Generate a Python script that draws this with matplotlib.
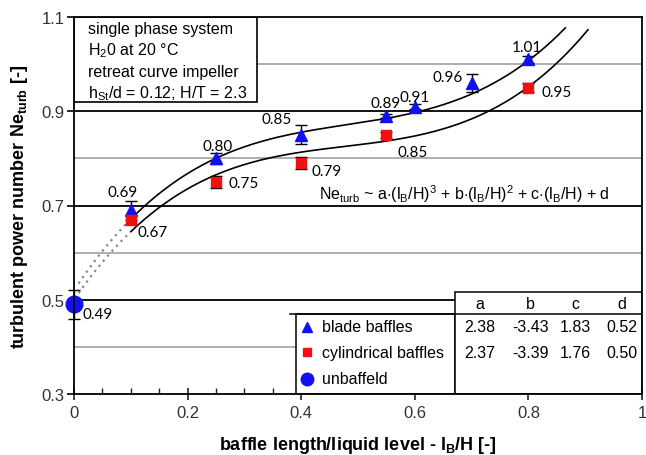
import numpy as np
import matplotlib
matplotlib.use("Agg")
import matplotlib.pyplot as plt
import matplotlib.patches as patches

plt.rcParams["font.family"] = ["Liberation Sans", "DejaVu Sans"]
plt.rcParams["mathtext.fontset"] = "custom"
plt.rcParams["mathtext.rm"] = "Liberation Sans"
plt.rcParams["mathtext.it"] = "Liberation Sans"
plt.rcParams["mathtext.bf"] = "Liberation Sans:bold"

# measured power numbers
blade_x = [0.1, 0.25, 0.4, 0.55, 0.6, 0.7, 0.8]
blade_ne = [0.69, 0.80, 0.85, 0.89, 0.91, 0.96, 1.01]
blade_err = [0.02, 0.012, 0.02, 0.005, 0.005, 0.02, 0.008]

cyl_x = [0.1, 0.25, 0.4, 0.55, 0.8]
cyl_ne = [0.67, 0.75, 0.79, 0.85, 0.95]
cyl_err = [0.01, 0.012, 0.012, 0.006, 0.01]

unb_x = [0.0]
unb_ne = [0.49]
unb_err = [0.03]

# cubic fit coefficients a, b, c, d
blade_coef = [2.38, -3.43, 1.83, 0.52]
cyl_coef = [2.37, -3.39, 1.76, 0.50]
coef_cols = ["a", "b", "c", "d"]

W, H = 646, 456
fig = plt.figure(figsize=(W / 100, H / 100), dpi=100)
ax = fig.add_axes([74 / W, 1 - 395 / H, 568 / W, 377 / H])

ax.set_xlim(0, 1)
ax.set_ylim(0.3, 1.1)

# horizontal grid
for y in [0.5, 0.7, 0.9]:
    ax.axhline(y, color="black", lw=1.3, zorder=1)
ax.axhline(0.4, xmax=0.39, color="#999999", lw=1.1, zorder=1)
for y in [0.6, 0.8, 1.0]:
    ax.axhline(y, color="#999999", lw=1.1, zorder=1)

# fitted curves and extrapolation to zero
poly_b = np.poly1d(blade_coef)
poly_c = np.poly1d(cyl_coef)
xb = np.linspace(0.1, 0.865, 200)
xc = np.linspace(0.1, 0.905, 200)
ax.plot(xb, poly_b(xb), color="black", lw=1.2, zorder=3)
ax.plot(xc, poly_c(xc), color="black", lw=1.2, zorder=3)
xe = np.linspace(0.008, 0.095, 50)
ax.plot(xe, poly_b(xe), color="#888888", lw=1.6, ls=(0, (1, 2)), zorder=3)
ax.plot(xe, poly_c(xe), color="#888888", lw=1.6, ls=(0, (1, 2)), zorder=3)

# error bars and markers
ax.errorbar(blade_x, blade_ne, yerr=blade_err, fmt="none", ecolor="black",
            elinewidth=1, capsize=4, capthick=1, zorder=4)
ax.errorbar(cyl_x, cyl_ne, yerr=cyl_err, fmt="none", ecolor="black",
            elinewidth=1, capsize=4, capthick=1, zorder=4)
ax.errorbar(unb_x, unb_ne, yerr=unb_err, fmt="none", ecolor="black",
            elinewidth=1, capsize=4, capthick=1, zorder=4, clip_on=False)
ax.plot(blade_x, blade_ne, "^", color="#1010F0", ms=9, zorder=5)
ax.plot(cyl_x, cyl_ne, "s", color="#F01010", ms=6.5, zorder=5)
ax.plot(unb_x, unb_ne, "o", color="#1010F0", ms=12, zorder=6, clip_on=False)

# value labels
lab_font = dict(family=["Lato", "DejaVu Sans"], fontsize=11, ha="center", va="center", zorder=7)
blade_lab_pos = [(0.086, 0.729), (0.252, 0.826), (0.357, 0.884), (0.548, 0.918),
                 (0.600, 0.931), (0.658, 0.973), (0.797, 1.036)]
cyl_lab_pos = [(0.139, 0.644), (0.298, 0.748), (0.445, 0.773), (0.597, 0.813), (0.850, 0.941)]
for v, (lx, ly) in zip(blade_ne, blade_lab_pos):
    ax.text(lx, ly, f"{v:.2f}", **lab_font)
for v, (lx, ly) in zip(cyl_ne, cyl_lab_pos):
    ax.text(lx, ly, f"{v:.2f}", **lab_font)
ax.text(0.042, 0.47, f"{unb_ne[0]:.2f}", **lab_font)

# fit equation
ax.text(0.688, 0.726,
        r"Ne$_\mathrm{turb}$ ~ a$\cdot$(l$_\mathrm{B}$/H)$^3$ + b$\cdot$(l$_\mathrm{B}$/H)$^2$"
        r" + c$\cdot$(l$_\mathrm{B}$/H) + d",
        fontsize=11.5, ha="center", va="center", zorder=7)

# info box
ax.add_patch(patches.Rectangle((0, 0.92), 0.322, 0.18, facecolor="white",
                               edgecolor="black", lw=1.2, zorder=2))
info = ["single phase system", r"H$_2$0 at 20 °C", "retreat curve impeller",
        r"h$_\mathrm{St}$/d = 0.12; H/T = 2.3"]
for i, line in enumerate(info):
    ax.text(0.025, 1.075 - i * 0.045, line, fontsize=11.5, ha="left", va="center", zorder=7)

# legend box and coefficient table
ax.add_patch(patches.Rectangle((0.39, 0.3), 0.281, 0.17, facecolor="white",
                               edgecolor="black", lw=1.1, zorder=2))
ax.add_patch(patches.Rectangle((0.671, 0.3), 0.329, 0.216, facecolor="white",
                               edgecolor="black", lw=1.1, zorder=2))
ax.plot([0.38, 1.0], [0.47, 0.47], color="black", lw=1.1, zorder=3)

leg_rows = [0.443, 0.389, 0.332]
ax.plot(0.41, leg_rows[0], "^", color="#1010F0", ms=7, zorder=5)
ax.plot(0.41, leg_rows[1], "s", color="#F01010", ms=6, zorder=5)
ax.plot(0.41, leg_rows[2], "o", color="#1010F0", ms=9, zorder=5)
for name, yy in zip(["blade baffles", "cylindrical baffles", "unbaffeld"], leg_rows):
    ax.text(0.437, yy, name, fontsize=11.5, ha="left", va="center", zorder=7)

col_x = [0.715, 0.803, 0.882, 0.965]
for cx, name in zip(col_x, coef_cols):
    ax.text(cx, 0.493, name, fontsize=11.5, ha="center", va="center", zorder=7)
for cx, vb, vc in zip(col_x, blade_coef, cyl_coef):
    ax.text(cx, leg_rows[0], f"{vb:.2f}", fontsize=11.5, ha="center", va="center", zorder=7)
    ax.text(cx, leg_rows[1], f"{vc:.2f}", fontsize=11.5, ha="center", va="center", zorder=7)

# axes styling
ax.set_xticks([0, 0.2, 0.4, 0.6, 0.8, 1.0])
ax.set_xticklabels(["0", "0.2", "0.4", "0.6", "0.8", "1"])
ax.set_xticks(np.arange(0, 1.001, 0.05), minor=True)
ax.set_yticks([0.3, 0.5, 0.7, 0.9, 1.1])
ax.set_yticklabels(["0.3", "0.5", "0.7", "0.9", "1.1"])
ax.tick_params(axis="x", which="major", direction="inout", length=8, width=1.2,
               labelsize=12, pad=4, colors="#222222", labelcolor="#333333")
ax.tick_params(axis="x", which="minor", direction="in", length=4, width=1, colors="#222222")
ax.tick_params(axis="y", which="major", direction="out", length=5, width=1.2,
               labelsize=12, pad=2, labelcolor="#333333")
for sp in ax.spines.values():
    sp.set_linewidth(1.3)
    sp.set_zorder(8)

ax.set_xlabel(r"baffle length/liquid level - l$_\mathbf{B}$/H [-]", fontsize=13,
              fontweight="bold", labelpad=10)
ax.set_ylabel(r"turbulent power number Ne$_\mathbf{turb}$ [-]", fontsize=13,
              fontweight="bold", labelpad=8)

fig.savefig("out.png", dpi=100, facecolor="white")
